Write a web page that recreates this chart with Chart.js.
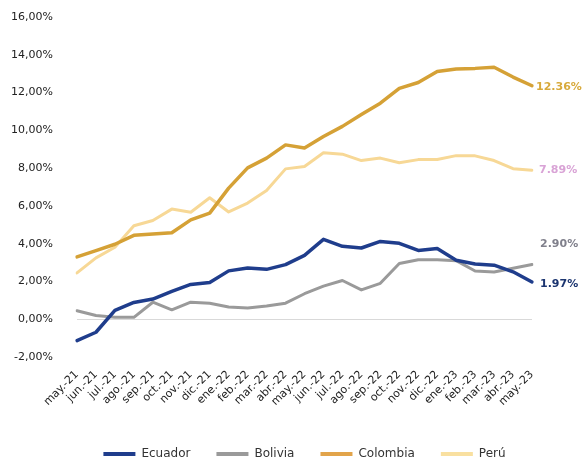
<!DOCTYPE html>
<html><head><meta charset="utf-8">
<script src="https://cdn.jsdelivr.net/npm/chart.js@4.4.1/dist/chart.umd.min.js"></script>
<style>html,body{margin:0;padding:0;background:#fff}#w{width:584px;height:459px}</style>
</head><body><div id="w"><canvas id="c"></canvas></div>
<script>
const categories = ['may.-21','jun.-21','jul.-21','ago.-21','sep.-21','oct.-21','nov.-21','dic.-21','ene.-22','feb.-22','mar.-22','abr.-22','may.-22','jun.-22','jul.-22','ago.-22','sep.-22','oct.-22','nov.-22','dic.-22','ene.-23','feb.-23','mar.-23','abr.-23','may.-23'];
const seriesNames = ['Ecuador','Bolivia','Colombia','Perú'];
const ecuador  = [-1.13,-0.69,0.47,0.89,1.07,1.47,1.84,1.94,2.56,2.71,2.64,2.89,3.38,4.23,3.86,3.77,4.12,4.02,3.64,3.74,3.12,2.92,2.86,2.51,1.97];
const bolivia  = [0.45,0.20,0.10,0.10,0.90,0.50,0.90,0.85,0.65,0.60,0.70,0.85,1.35,1.75,2.05,1.55,1.90,2.95,3.15,3.15,3.10,2.55,2.50,2.70,2.90];
const colombia = [3.30,3.63,3.97,4.44,4.51,4.58,5.26,5.62,6.94,8.01,8.53,9.23,9.07,9.67,10.21,10.84,11.44,12.22,12.53,13.12,13.25,13.28,13.34,12.82,12.36];
const peru     = [2.45,3.25,3.81,4.95,5.23,5.83,5.66,6.43,5.68,6.15,6.82,7.96,8.09,8.81,8.74,8.40,8.53,8.28,8.45,8.46,8.66,8.65,8.40,7.97,7.89];
const yTicks = [-2,0,2,4,6,8,10,12,14,16];

const lineColors  = ['#1f3d8c','#9a9a9a','#d5a136','#f7d896'];
const legendColors= ['#1f3d8c','#9a9a9a','#e2a44a','#f9e0a0'];
const labelColors = ['#1c3570','#80808c','#d8aa3c','#d9a3d6'];
const widths = [3.5,3,3.5,3];

const endLabels = {
  id:'endLabels',
  afterDatasetsDraw(chart, args, opts){
    const ctx = chart.ctx;
    chart.data.datasets.forEach((ds,i)=>{
      const meta = chart.getDatasetMeta(i);
      const pt = meta.data[meta.data.length-1];
      const v = ds.data[ds.data.length-1];
      ctx.save();
      ctx.font = 'bold 11px "DejaVu Sans"';
      ctx.fillStyle = opts.colors[i];
      ctx.textAlign = 'left';
      ctx.textBaseline = 'middle';
      ctx.fillText(v.toFixed(2)+'%', pt.x + opts.dx[i], pt.y + opts.dy[i]);
      ctx.restore();
    });
  }
};

const data = {
  labels: categories,
  datasets: [ecuador,bolivia,colombia,peru].map((d,i)=>({
    label: seriesNames[i],
    data: d,
    borderColor: lineColors[i],
    backgroundColor: legendColors[i],
    borderWidth: widths[i],
    pointRadius: 0,
    tension: 0,
    borderJoinStyle: 'round',
    borderCapStyle: 'round'
  }))
};

new Chart(document.getElementById('c'), {
  type: 'line',
  data,
  plugins: [endLabels],
  options: {
    responsive: true,
    maintainAspectRatio: false,
    animation: false,
    layout: { padding: { top: 17, right: 52, left: 0, bottom: -11 } },
    scales: {
      x: {
        offset: false,
        grid: { display: false, drawTicks: false },
        border: { display: false },
        ticks: { autoSkip: false, minRotation: 45, maxRotation: 45, padding: 11,
                 color: '#222', font: { family: 'DejaVu Sans', size: 11 } },
        afterFit(s){ s.height = 65; }
      },
      y: {
        min: -2, max: 16,
        afterBuildTicks(s){ s.ticks = yTicks.map(v=>({value:v})); },
        grid: { drawTicks: false, color: c => (c.tick && c.tick.value === 0) ? '#d9d9d9' : 'rgba(0,0,0,0)', lineWidth: 1 },
        border: { display: false },
        ticks: { padding: 24, color: '#222', font: { family: 'DejaVu Sans', size: 11 },
                 callback: v => v.toFixed(2).replace('.', ',') + '%' },
        afterFit(s){ s.width = 77; s.paddingTop = 0; s.paddingBottom = 0; }
      }
    },
    plugins: {
      tooltip: { enabled: false },
      legend: {
        position: 'bottom',
        fullSize: false,
        labels: {
          boxWidth: 32, boxHeight: 4, padding: 26,
          color: '#333', font: { family: 'DejaVu Sans', size: 12 },
          generateLabels: chart => Chart.defaults.plugins.legend.labels.generateLabels(chart).map(l => ({...l, lineWidth: 0}))
        }
      },
      endLabels: { colors: labelColors, dx: [8, 8, 4, 7], dy: [2, -20, 1, 0] }
    }
  }
});
</script>
</body></html>
